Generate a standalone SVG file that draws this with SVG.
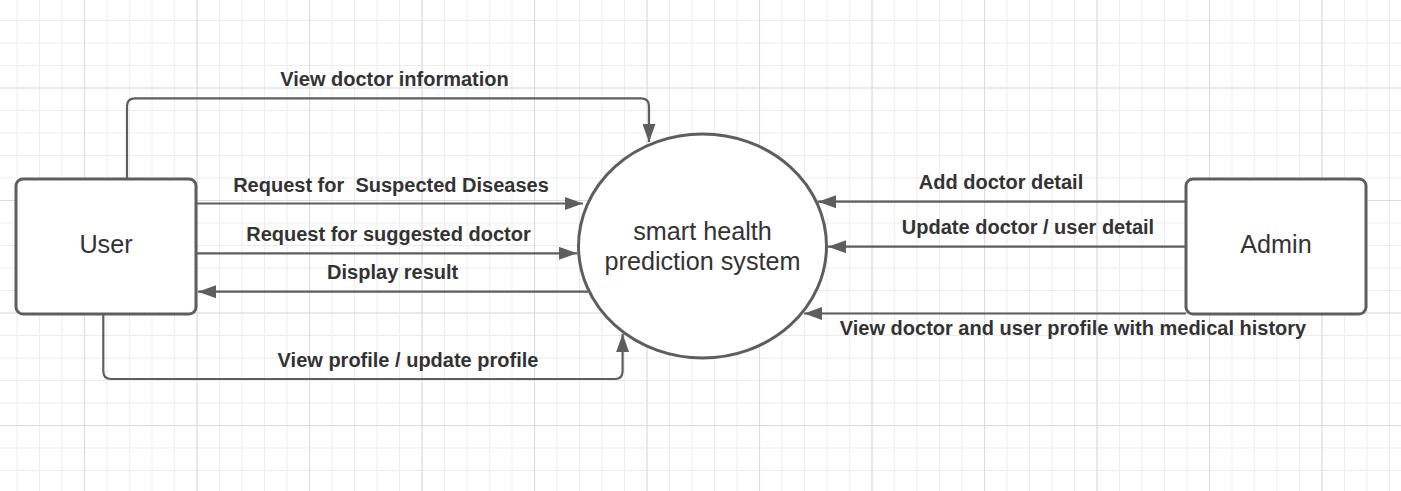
<svg xmlns="http://www.w3.org/2000/svg" width="1401" height="491" viewBox="0 0 1401 491">
  <style>
    .node { fill: #ffffff; stroke: #5e5e5e; stroke-width: 3; }
    .ntext { font-family: "Liberation Sans", Arial, sans-serif; font-size: 25.2px; fill: #333333; text-anchor: middle; }
    .conn { fill: none; stroke: #5e5e5e; stroke-width: 2.2; }
    .label { font-family: "Liberation Sans", Arial, sans-serif; font-size: 20px; font-weight: bold; fill: #333333; text-anchor: middle; white-space: pre; }
  </style>
  <defs>
    <pattern id="gridMinor" patternUnits="userSpaceOnUse" x="84" y="87.5" width="22.5" height="22.5">
      <path d="M0.5 0 V22.5 M0 0.5 H22.5" fill="none" stroke="#ececec" stroke-width="1"/>
    </pattern>
    <pattern id="gridMajor" patternUnits="userSpaceOnUse" x="84" y="87.5" width="112.5" height="112.5">
      <path d="M0.5 0 V112.5 M0 0.5 H112.5" fill="none" stroke="#dcdcdc" stroke-width="1.2"/>
    </pattern>
    <marker id="arrow" markerUnits="userSpaceOnUse" markerWidth="18" markerHeight="13" refX="18" refY="6.5" orient="auto">
      <path d="M0 0 L18 6.5 L0 13 Z" fill="#5e5e5e"/>
    </marker>
  </defs>
  <rect width="1401" height="491" fill="#ffffff"/>
  <rect width="1401" height="491" fill="url(#gridMinor)"/>
  <rect width="1401" height="491" fill="url(#gridMajor)"/>

  <g id="connectors">
    <g id="c-view-doctor-info">
      <path class="conn" d="M127 179 V106 Q127 98.3 135 98.3 H641 Q649 98.3 649 106 V142" marker-end="url(#arrow)"/>
      <text class="label" x="394.5" y="86">View doctor information</text>
    </g>
    <g id="c-suspected">
      <path class="conn" d="M196 203.5 H583" marker-end="url(#arrow)"/>
      <text class="label" x="391" y="192" xml:space="preserve">Request for  Suspected Diseases</text>
    </g>
    <g id="c-suggested">
      <path class="conn" d="M196 253.3 H577" marker-end="url(#arrow)"/>
      <text class="label" x="388.5" y="240.5">Request for suggested doctor</text>
    </g>
    <g id="c-display">
      <path class="conn" d="M588 291.7 H198" marker-end="url(#arrow)"/>
      <text class="label" x="392.7" y="279">Display result</text>
    </g>
    <g id="c-profile">
      <path class="conn" d="M103.3 314 V371 Q103.3 379 111 379 H615 Q622.6 379 622.6 371 V334" marker-end="url(#arrow)"/>
      <text class="label" x="408" y="367">View profile / update profile</text>
    </g>
    <g id="c-add-doctor">
      <path class="conn" d="M1186 201.7 H818" marker-end="url(#arrow)"/>
      <text class="label" x="1001" y="189">Add doctor detail</text>
    </g>
    <g id="c-update-detail">
      <path class="conn" d="M1186 246.7 H828" marker-end="url(#arrow)"/>
      <text class="label" x="1028" y="234">Update doctor / user detail</text>
    </g>
    <g id="c-view-history">
      <path class="conn" d="M1186 313.5 H804" marker-end="url(#arrow)"/>
      <text class="label" x="1073" y="335">View doctor and user profile with medical history</text>
    </g>
  </g>

  <g id="node-user">
    <rect class="node" x="16" y="179" width="180" height="135" rx="7"/>
    <text class="ntext" x="106" y="252.5">User</text>
  </g>
  <g id="node-system">
    <ellipse class="node" cx="702.5" cy="246" rx="124" ry="112"/>
    <text class="ntext" x="702.5" y="239.5">smart health</text>
    <text class="ntext" x="702.5" y="269.5">prediction system</text>
  </g>
  <g id="node-admin">
    <rect class="node" x="1186" y="179" width="180" height="135" rx="7"/>
    <text class="ntext" x="1276" y="252.5">Admin</text>
  </g>
</svg>
